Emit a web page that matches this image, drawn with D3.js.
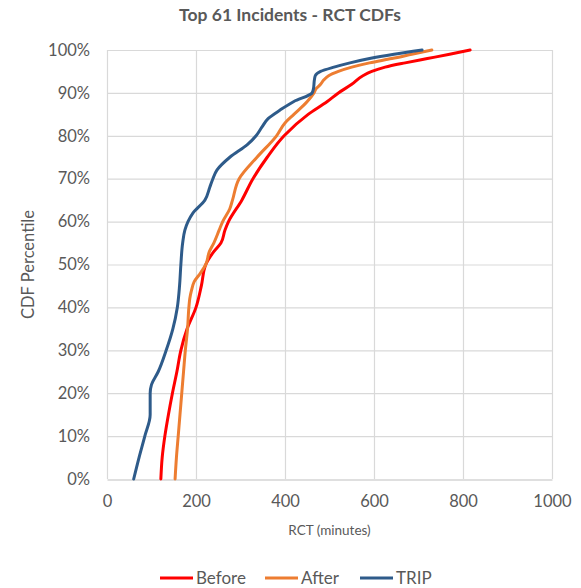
<!DOCTYPE html>
<html>
<head>
<meta charset="utf-8">
<script src="https://cdn.jsdelivr.net/npm/d3@7"></script>
<style>
  html, body { margin: 0; padding: 0; background: #fff; }
  svg { display: block; font-family: Lato, "Open Sans", sans-serif; }
</style>
</head>
<body>
<svg id="chart" width="581" height="588"></svg>
<script>
// CDF percentiles (y) and resolution times in minutes (x) for each series
const beforePct = [0, 5, 10, 15, 20, 25, 30, 35, 40, 45, 50, 53, 55, 58, 60, 65, 70, 75, 80, 85, 88, 90, 92, 94, 95, 96, 97, 98, 99, 100];
const beforeRct = [121, 124, 130, 138, 147, 157, 166, 180, 200, 212, 222, 240, 256, 265, 273, 303, 328, 360, 398, 452, 495, 520, 550, 575, 595, 625, 670, 720, 770, 816];

const afterPct = [0, 5, 10, 15, 20, 25, 30, 35, 40, 42, 44, 46, 48, 50, 53, 55, 58, 60, 63, 65, 70, 75, 80, 83, 85, 88, 90, 91, 92, 93, 94, 95, 96, 97, 98, 99, 100];
const afterRct = [153, 156, 160, 164, 168, 172, 176, 181, 184, 186, 190, 196, 210, 222, 230, 240, 252, 260, 276, 282, 297, 337, 381, 400, 420, 450, 465, 470, 480, 487, 498, 520, 550, 590, 640, 685, 730];

const tripPct = [0, 5, 10, 15, 20, 22, 25, 30, 35, 40, 45, 50, 55, 58, 60, 62, 65, 68, 70, 72, 75, 78, 80, 82, 84, 86, 88, 90, 91, 93, 94, 95, 96, 97, 98, 99, 100];
const tripRct = [60, 72, 85, 97, 97, 100, 115, 133, 148, 158, 163, 166, 170, 175, 182, 193, 220, 231, 238, 247, 276, 316, 335, 348, 362, 389, 420, 461, 464, 466, 468, 480, 510, 546, 590, 645, 708];

const seriesNames = ["Before", "After", "TRIP"];
const seriesColors = ["#FF0000", "#ED7D31", "#2E5B8A"];

const xTicks = [0, 200, 400, 600, 800, 1000];
const yTicks = [0, 10, 20, 30, 40, 50, 60, 70, 80, 90, 100];

const chartTitle = "Top 61 Incidents - RCT CDFs";
const xTitle = "RCT (minutes)";
const yTitle = "CDF Percentile";

const series = [
  { name: seriesNames[0], color: seriesColors[0], pts: beforePct.map((p, i) => ({ p, v: beforeRct[i] })) },
  { name: seriesNames[1], color: seriesColors[1], pts: afterPct.map((p, i) => ({ p, v: afterRct[i] })) },
  { name: seriesNames[2], color: seriesColors[2], pts: tripPct.map((p, i) => ({ p, v: tripRct[i] })) }
];

const svg = d3.select("#chart");
const plot = { left: 107, right: 552, top: 50, bottom: 479 };
const textColor = "#595959";

const x = d3.scaleLinear().domain([0, 1000]).range([plot.left, plot.right]);
const y = d3.scaleLinear().domain([0, 100]).range([plot.bottom, plot.top]);

// gridlines
const grid = svg.append("g");
grid.selectAll("line.h").data(yTicks.filter(t => t > 0)).enter().append("line")
  .attr("x1", plot.left).attr("x2", plot.right)
  .attr("y1", d => y(d) + 0.5).attr("y2", d => y(d) + 0.5)
  .attr("stroke", "#D9D9D9").attr("stroke-width", 1.2);
grid.selectAll("line.v").data(xTicks).enter().append("line")
  .attr("y1", plot.top).attr("y2", plot.bottom)
  .attr("x1", d => x(d) + 0.5).attr("x2", d => x(d) + 0.5)
  .attr("stroke", "#D9D9D9").attr("stroke-width", 1.2);

// axes
const xAxis = d3.axisBottom(x).tickValues(xTicks).tickSize(0).tickPadding(16).tickFormat(d3.format("d"));
const gx = svg.append("g").attr("transform", `translate(0,${plot.bottom + 0.5})`).call(xAxis);
gx.select(".domain").attr("stroke", "#BFBFBF").attr("stroke-width", 1.2);
gx.selectAll("text").attr("fill", textColor).style("font-size", "16.5px")
  .style("font-family", "Lato, sans-serif");

const yAxis = d3.axisLeft(y).tickValues(yTicks).tickSize(0).tickPadding(17).tickFormat(d => d + "%");
const gy = svg.append("g").attr("transform", `translate(${plot.left},0)`).call(yAxis);
gy.select(".domain").remove();
gy.selectAll("text").attr("fill", textColor).style("font-size", "16.5px")
  .style("font-family", "Lato, sans-serif");

// curves
const line = d3.line()
  .x(d => x(d.v))
  .y(d => y(d.p))
  .curve(d3.curveMonotoneY);

svg.append("g").selectAll("path").data(series).enter().append("path")
  .attr("d", d => line(d.pts))
  .attr("fill", "none")
  .attr("stroke", d => d.color)
  .attr("stroke-width", 3)
  .attr("stroke-linejoin", "round")
  .attr("stroke-linecap", "round");

// titles
svg.append("text")
  .attr("x", 290).attr("y", 21)
  .attr("text-anchor", "middle")
  .attr("fill", textColor)
  .style("font-size", "17.5px").style("font-weight", "bold")
  .text(chartTitle);

svg.append("text")
  .attr("x", (plot.left + plot.right) / 2).attr("y", 535)
  .attr("text-anchor", "middle")
  .attr("fill", textColor)
  .style("font-size", "13.5px")
  .text(xTitle);

svg.append("text")
  .attr("transform", `translate(34,${(plot.top + plot.bottom) / 2}) rotate(-90)`)
  .attr("text-anchor", "middle")
  .attr("fill", textColor)
  .style("font-size", "16.5px")
  .text(yTitle);

// legend
const legendX = [160, 265, 360];
const lg = svg.append("g").selectAll("g").data(series).enter().append("g")
  .attr("transform", (d, i) => `translate(${legendX[i]},578)`);
lg.append("line").attr("x1", 0).attr("x2", 33).attr("y1", 0).attr("y2", 0)
  .attr("stroke", d => d.color).attr("stroke-width", 3);
lg.append("text").attr("x", 36).attr("y", 6)
  .attr("fill", textColor).style("font-size", "17px")
  .text(d => d.name);
</script>
</body>
</html>
